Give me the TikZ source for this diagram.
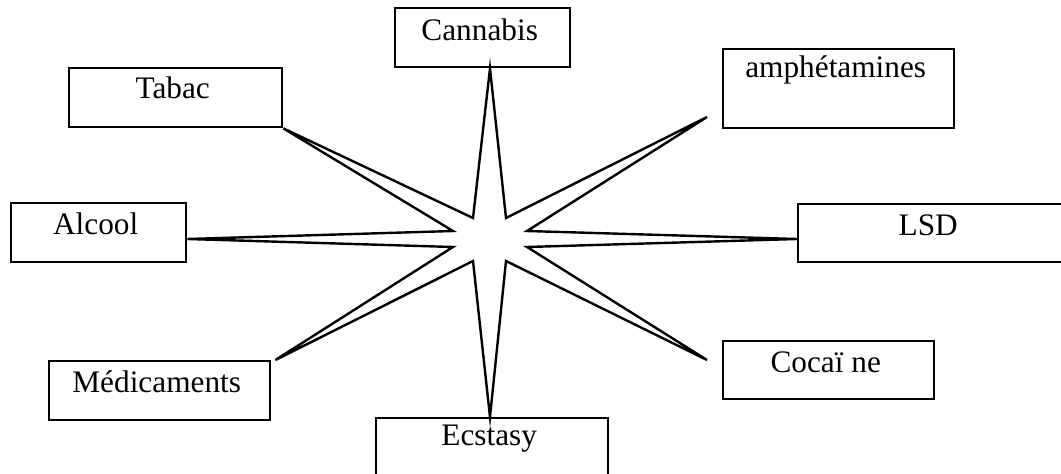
\documentclass[tikz,border=0pt]{standalone}
\usepackage{fontspec}
\setmainfont{Liberation Serif}

\tikzset{
  box/.style={draw, line width=2.4pt, anchor=north west, inner sep=0pt},
  lbl/.style={anchor=base, xshift=-3pt, font=\fontsize{31.3}{36}\selectfont},
  starline/.style={draw, line width=2.4pt, fill=white}
}

\begin{document}
\begin{tikzpicture}[x=1pt, y=-1pt]
\useasboundingbox (0,0) rectangle (1061,474);
\clip (0,0) rectangle (1061,474);

% boxes
\node[box, minimum width=175pt, minimum height=59pt] (cannabis) at (394,7) {};
\node[box, minimum width=213pt, minimum height=59pt] (tabac) at (68,67) {};
\node[box, minimum width=231pt, minimum height=79pt] (amph) at (722,48) {};
\node[box, minimum width=175pt, minimum height=59pt] (alcool) at (10,202) {};
\node[box, minimum width=266pt, minimum height=58pt] (lsd) at (797,203) {};
\node[box, minimum width=221pt, minimum height=59pt] (medic) at (48,360) {};
\node[box, minimum width=211pt, minimum height=58pt] (cocaine) at (722,340) {};
\node[box, minimum width=232pt, minimum height=62pt] (ecstasy) at (375,417) {};

% labels
\node[lbl] (tcannabis) at ([yshift=-33pt]cannabis.north) {Cannabis};
\node[lbl] (ttabac) at ([yshift=-31pt]tabac.north) {Tabac};
\node[lbl] (tamph) at ([yshift=-29pt]amph.north) {amphétamines};
\node[lbl] (talcool) at ([yshift=-32pt]alcool.north) {Alcool};
\node[lbl] (tlsd) at ([yshift=-32pt]lsd.north) {LSD};
\node[lbl] (tmedic) at ([yshift=-32pt]medic.north) {Médicaments};
\node[lbl] (tcocaine) at ([yshift=-32pt]cocaine.north) {Cocaï ne};
\node[lbl] (tecstasy) at ([yshift=-28pt]ecstasy.north) {Ecstasy};

% star tips
\coordinate (ctr) at (490,239);
\coordinate (ttop) at (cannabis.south -| ctr);
\coordinate (tbot) at (ecstasy.north -| ctr);
\coordinate (tleft) at (alcool.east |- ctr);
\coordinate (tright) at (lsd.west |- ctr);
\coordinate (tul) at (tabac.south east);
\coordinate (tur) at (707,117);
\coordinate (tlr) at (707,360);
\coordinate (tll) at ([xshift=4pt]medic.north east);

\draw[starline] (ttop) -- (506,218) -- (tur) -- (527,231) -- (tright)
  -- (527,247) -- (tlr) -- (506,261) -- (tbot) -- (473,261) -- (tll)
  -- (453,247) -- (tleft) -- (453,231) -- (tul) -- (473,218) -- cycle;

\end{tikzpicture}
\end{document}
